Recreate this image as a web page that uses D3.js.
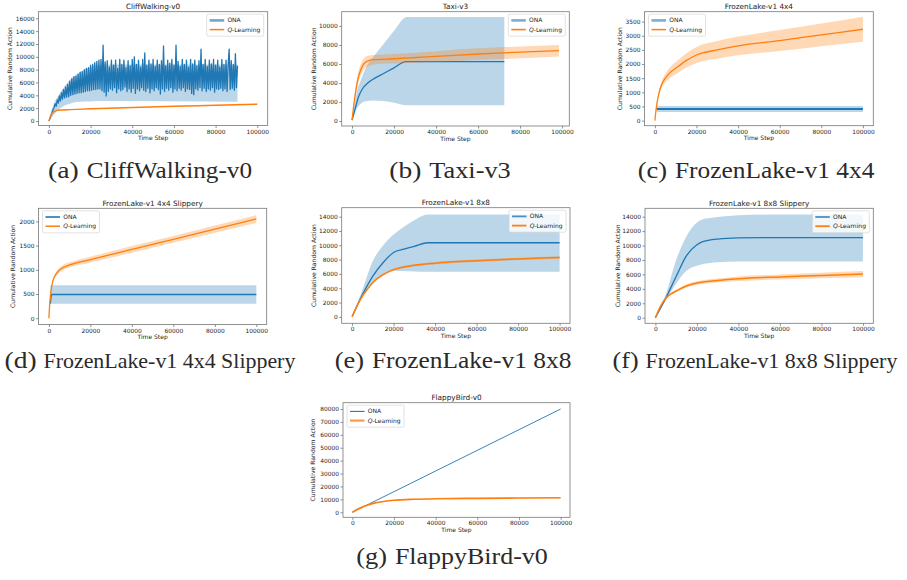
<!DOCTYPE html>
<html>
<head>
<meta charset="utf-8">
<script src="https://cdn.jsdelivr.net/npm/d3@7"></script>
<style>
  body { margin: 0; background: #fff; }
  svg { display: block; }
</style>
</head>
<body>
<svg id="fig" width="907" height="580"></svg>
<script>
const onaColor = '#1f77b4';
const qColor = '#ff7f0e';
const textColor = '#222';
const frameColor = '#777';

const xTicks = [0, 20000, 40000, 60000, 80000, 100000];

// (a) CliffWalking-v0 -- ONA mean sampled every 500 steps
const cliffOnaStep = 500;
const cliffOnaMean = [
  0, 400, 900, 1300, 1800, 2100, 2700, 2300, 3300, 2800,
  3900, 3100, 4400, 3400, 4900, 3600, 5300, 3700, 5700, 3800,
  6200, 4000, 6600, 4100, 6900, 4200, 7000, 4300, 7300, 4400,
  7600, 4400, 7700, 4500, 8000, 4600, 8200, 4700, 8300, 4700,
  8700, 4800, 8800, 4900, 9100, 4900, 9300, 5000, 9500, 5000,
  9600, 4700, 11800, 4500, 9200, 3900, 9400, 4600, 8400, 5000,
  9500, 4800, 8700, 5200, 9500, 4400, 8200, 5000, 9600, 4700,
  8800, 4900, 9500, 5300, 8300, 4600, 9400, 5000, 8600, 4500,
  9600, 5100, 10000, 4300, 8800, 5000, 9500, 4700, 8400, 5200,
  9600, 4800, 10600, 4600, 8700, 5100, 9500, 4400, 8900, 5000,
  9600, 4700, 8500, 5200, 9500, 4900, 8800, 4200, 9400, 5000,
  11700, 4600, 8600, 5100, 9500, 4800, 9000, 5200, 9600, 4500,
  8700, 5000, 11800, 4700, 9300, 5100, 8500, 4800, 9600, 5200,
  8800, 4600, 9500, 5000, 8400, 4900, 9600, 4300, 8900, 4100,
  9500, 5000, 8600, 4800, 9400, 5200, 11200, 4700, 8800, 5100,
  9600, 4600, 8500, 5000, 9500, 4800, 8900, 5200, 9600, 4500,
  8700, 5000, 9500, 4900, 8400, 5100, 9600, 4700, 8800, 5000,
  9500, 4600, 8600, 11200, 4900, 9400, 5100, 8800, 4800, 10500,
  5200, 8600
];
const cliffOnaBandSteps = [0, 2500, 5000, 10000, 15000, 20000, 25000, 90500];
const cliffOnaLow = [0, 1000, 1900, 2700, 3000, 3050, 3100, 3000];
const cliffOnaHigh = [200, 2800, 4200, 6400, 7600, 8400, 8800, 8800];
const cliffQSteps = [0, 1000, 2000, 3000, 4000, 6000, 10000, 20000, 40000, 60000, 80000, 100000];
const cliffQMean = [0, 900, 1350, 1550, 1650, 1720, 1780, 1900, 2100, 2300, 2450, 2620];
const cliffQLow = [0, 850, 1300, 1500, 1600, 1670, 1730, 1850, 2050, 2250, 2400, 2570];
const cliffQHigh = [0, 950, 1400, 1600, 1700, 1770, 1830, 1950, 2150, 2350, 2500, 2670];
const cliffYTicks = [0, 2000, 4000, 6000, 8000, 10000, 12000, 14000, 16000];

// (b) Taxi-v3
const taxiOnaSteps = [0, 1500, 3000, 5000, 7500, 10000, 15000, 20000, 25500, 72500];
const taxiOnaMean = [100, 1300, 2500, 3400, 4000, 4400, 5000, 5600, 6250, 6250];
const taxiOnaBandSteps = [0, 2000, 4000, 7000, 10000, 15000, 20000, 26000, 72500];
const taxiOnaLow = [0, 1200, 1800, 2100, 2160, 2100, 1920, 1650, 1650];
const taxiOnaHigh = [200, 2800, 4200, 5800, 6700, 8100, 9500, 10950, 10950];
const taxiQSteps = [0, 1000, 2000, 3000, 4000, 5000, 6000, 8000, 10000, 20000, 40000, 60000, 80000, 98500];
const taxiQMean = [100, 2000, 3500, 4600, 5300, 5800, 6100, 6350, 6450, 6550, 6800, 7050, 7250, 7400];
const taxiQLow = [50, 1700, 3000, 4000, 4700, 5200, 5500, 5800, 5950, 6050, 6200, 6450, 6600, 6800];
const taxiQHigh = [150, 2300, 4000, 5200, 5900, 6400, 6700, 6900, 6950, 7050, 7350, 7650, 7850, 8000];
const taxiYTicks = [0, 2000, 4000, 6000, 8000, 10000];

// (c) FrozenLake-v1 4x4
const fl4OnaSteps = [800, 100000];
const fl4OnaMean = [410, 410];
const fl4OnaLow = [300, 300];
const fl4OnaHigh = [520, 520];
const fl4QSteps = [0, 500, 1000, 2000, 3000, 5000, 7000, 10000, 15000, 20000, 30000, 40000, 60000, 80000, 100000];
const fl4QMean = [0, 350, 620, 980, 1230, 1500, 1680, 1850, 2120, 2320, 2500, 2640, 2830, 3030, 3230];
const fl4QLow = [0, 320, 570, 900, 1120, 1350, 1500, 1630, 1870, 2040, 2190, 2310, 2460, 2630, 2790];
const fl4QHigh = [0, 380, 670, 1060, 1340, 1650, 1860, 2070, 2370, 2600, 2810, 2970, 3200, 3430, 3670];
const fl4YTicks = [0, 500, 1000, 1500, 2000, 2500, 3000, 3500];

// (d) FrozenLake-v1 4x4 Slippery
const fl4sOnaSteps = [700, 1200, 100000];
const fl4sOnaMean = [300, 490, 490];
const fl4sOnaLow = [300, 300, 300];
const fl4sOnaHigh = [680, 680, 680];
const fl4sQSteps = [0, 500, 1000, 2000, 3000, 5000, 7000, 10000, 20000, 40000, 60000, 80000, 100000];
const fl4sQMean = [0, 350, 550, 780, 880, 990, 1050, 1100, 1210, 1420, 1630, 1840, 2050];
const fl4sQLow = [0, 320, 510, 740, 840, 940, 995, 1045, 1150, 1350, 1560, 1765, 1970];
const fl4sQHigh = [0, 380, 590, 820, 920, 1040, 1105, 1155, 1270, 1490, 1700, 1915, 2130];
const fl4sYTicks = [0, 500, 1000, 1500, 2000];

// (e) FrozenLake-v1 8x8
const fl8OnaSteps = [0, 5000, 10000, 15000, 20000, 25000, 30000, 36500, 100000];
const fl8OnaMean = [0, 3100, 5700, 7600, 9000, 9450, 9850, 10350, 10350];
const fl8OnaLow = [0, 2800, 4800, 5900, 6450, 6400, 6350, 6300, 6300];
const fl8OnaHigh = [0, 3800, 7800, 10000, 11500, 12600, 13500, 14300, 14300];
const fl8QSteps = [0, 2500, 5000, 7500, 10000, 15000, 20000, 30000, 40000, 60000, 80000, 100000];
const fl8QMean = [0, 1600, 2900, 3900, 4800, 5900, 6600, 7200, 7500, 7850, 8100, 8300];
const fl8QLow = [0, 1500, 2780, 3770, 4660, 5750, 6450, 7040, 7340, 7680, 7930, 8130];
const fl8QHigh = [0, 1700, 3020, 4030, 4940, 6050, 6750, 7360, 7660, 8020, 8270, 8470];
const fl8YTicks = [0, 2000, 4000, 6000, 8000, 10000, 12000, 14000];

// (f) FrozenLake-v1 8x8 Slippery
const fl8sOnaSteps = [0, 5000, 10000, 15000, 20000, 22500, 30000, 40000, 60000, 100000];
const fl8sOnaMean = [0, 2700, 5700, 8600, 10100, 10500, 10900, 11050, 11100, 11100];
const fl8sOnaLow = [0, 2400, 4700, 6500, 7200, 7400, 7700, 7800, 7800, 7800];
const fl8sOnaHigh = [0, 3200, 8000, 11300, 13200, 13600, 13950, 14200, 14300, 14300];
const fl8sQSteps = [0, 2500, 5000, 7500, 10000, 15000, 20000, 30000, 40000, 60000, 80000, 100000];
const fl8sQMean = [0, 1600, 2700, 3300, 3700, 4400, 4800, 5150, 5400, 5650, 5850, 6050];
const fl8sQLow = [0, 1550, 2600, 3150, 3520, 4180, 4550, 4870, 5100, 5300, 5460, 5620];
const fl8sQHigh = [0, 1650, 2800, 3450, 3880, 4620, 5050, 5430, 5700, 6000, 6240, 6480];
const fl8sYTicks = [0, 2000, 4000, 6000, 8000, 10000, 12000, 14000];

// (g) FlappyBird-v0
const flappyOnaSteps = [0, 100000];
const flappyOnaMean = [0, 80000];
const flappyQSteps = [0, 2500, 5000, 7500, 10000, 15000, 20000, 30000, 40000, 60000, 80000, 100000];
const flappyQMean = [0, 2300, 4200, 5700, 6900, 8400, 9300, 10100, 10500, 10800, 11000, 11200];
const flappyQLow = [0, 2050, 3900, 5400, 6600, 8100, 9000, 9800, 10200, 10500, 10700, 10900];
const flappyQHigh = [0, 2550, 4500, 6000, 7200, 8700, 9600, 10400, 10800, 11100, 11300, 11500];
const flappyYTicks = [0, 10000, 20000, 30000, 40000, 50000, 60000, 70000, 80000];

const series = (steps, mean, lowSteps, low, high) => ({ steps, mean, lowSteps, low, high });

const panels = [
  { key: 'a', title: 'CliffWalking-v0', frame: [38.5, 11.7, 267.7, 125.5], xDom: [-5000, 105000], yDom: [-700, 17030], yTicks: cliffYTicks, yLabelX: 10, legend: 'right',
    ona: series(cliffOnaMean.map((_, i) => i * cliffOnaStep), cliffOnaMean, cliffOnaBandSteps, cliffOnaLow, cliffOnaHigh),
    q: series(cliffQSteps, cliffQMean, cliffQSteps, cliffQLow, cliffQHigh),
    onaW: 1.3, qW: 1.4, onaCurve: d3.curveLinear, hOna: [2.6, 0.65], hQ: [1.5, 1] },
  { key: 'b', title: 'Taxi-v3', frame: [341.7, 11.7, 569.3, 126], xDom: [-4925, 103425], yDom: [-520, 11500], yTicks: taxiYTicks, yLabelX: 314, legend: 'right',
    ona: series(taxiOnaSteps, taxiOnaMean, taxiOnaBandSteps, taxiOnaLow, taxiOnaHigh),
    q: series(taxiQSteps, taxiQMean, taxiQSteps, taxiQLow, taxiQHigh),
    onaW: 1.3, qW: 1.3, onaCurve: d3.curveMonotoneX, hOna: [2.6, 0.6], hQ: [1.6, 1] },
  { key: 'c', title: 'FrozenLake-v1 4x4', frame: [644.5, 11.7, 873.3, 125.7], xDom: [-5000, 105000], yDom: [-180, 3850], yTicks: fl4YTicks, yLabelX: 620, legend: 'left',
    ona: series(fl4OnaSteps, fl4OnaMean, fl4OnaSteps, fl4OnaLow, fl4OnaHigh),
    q: series(fl4QSteps, fl4QMean, fl4QSteps, fl4QLow, fl4QHigh),
    onaW: 1.8, qW: 1.3, onaCurve: d3.curveLinear, hOna: [2.6, 0.6], hQ: [1.5, 1] },
  { key: 'd', title: 'FrozenLake-v1 4x4 Slippery', frame: [38.5, 208.3, 266.7, 324.5], xDom: [-5000, 105000], yDom: [-130, 2270], yTicks: fl4sYTicks, yLabelX: 13.3, legend: 'left',
    ona: series(fl4sOnaSteps, fl4sOnaMean, fl4sOnaSteps, fl4sOnaLow, fl4sOnaHigh),
    q: series(fl4sQSteps, fl4sQMean, fl4sQSteps, fl4sQLow, fl4sQHigh),
    onaW: 1.3, qW: 1.3, onaCurve: d3.curveLinear, hOna: [2, 0.8], hQ: [1.5, 1] },
  { key: 'e', title: 'FrozenLake-v1 8x8', frame: [341.7, 207.7, 570, 323.3], xDom: [-5000, 105000], yDom: [-900, 15250], yTicks: fl8YTicks, yLabelX: 314, legend: 'right',
    ona: series(fl8OnaSteps, fl8OnaMean, fl8OnaSteps, fl8OnaLow, fl8OnaHigh),
    q: series(fl8QSteps, fl8QMean, fl8QSteps, fl8QLow, fl8QHigh),
    onaW: 1.3, qW: 1.5, onaCurve: d3.curveMonotoneX, hOna: [1.8, 0.8], hQ: [1.8, 1] },
  { key: 'f', title: 'FrozenLake-v1 8x8 Slippery', frame: [645, 208.3, 873.3, 323.3], xDom: [-5000, 105000], yDom: [-775, 15160], yTicks: fl8sYTicks, yLabelX: 618, legend: 'right',
    ona: series(fl8sOnaSteps, fl8sOnaMean, fl8sOnaSteps, fl8sOnaLow, fl8sOnaHigh),
    q: series(fl8sQSteps, fl8sQMean, fl8sQSteps, fl8sQLow, fl8sQHigh),
    onaW: 1.3, qW: 1.5, onaCurve: d3.curveMonotoneX, hOna: [1.8, 0.8], hQ: [1.8, 1] },
  { key: 'g', title: 'FlappyBird-v0', frame: [343, 402.7, 570, 517.3], xDom: [-4500, 104500], yDom: [-3900, 84900], yTicks: flappyYTicks, yLabelX: 313, legend: 'left',
    ona: series(flappyOnaSteps, flappyOnaMean, null, null, null),
    q: series(flappyQSteps, flappyQMean, flappyQSteps, flappyQLow, flappyQHigh),
    onaW: 0.9, qW: 1.6, onaCurve: d3.curveLinear, hOna: [1.1, 1], hQ: [2.2, 0.8] },
];

const captions = [
  { label: '(a)', name: 'CliffWalking-v0', cx: 150, y: 178, labelSize: 24, nameSize: 24, labelW: 30.7, nameW: 165.4 },
  { label: '(b)', name: 'Taxi-v3', cx: 450, y: 178, labelSize: 24, nameSize: 24, labelW: 32, nameW: 81.3 },
  { label: '(c)', name: 'FrozenLake-v1 4x4', cx: 756, y: 178, labelSize: 24, nameSize: 24, labelW: 29.3, nameW: 199.4 },
  { label: '(d)', name: 'FrozenLake-v1 4x4 Slippery', cx: 150, y: 368, labelSize: 24, nameSize: 20.6, labelW: 32, nameW: 251.9 },
  { label: '(e)', name: 'FrozenLake-v1 8x8', cx: 453, y: 368, labelSize: 24, nameSize: 24, labelW: 29.3, nameW: 199.4 },
  { label: '(f)', name: 'FrozenLake-v1 8x8 Slippery', cx: 755, y: 368, labelSize: 24, nameSize: 20.6, labelW: 26, nameW: 251.9 },
  { label: '(g)', name: 'FlappyBird-v0', cx: 452, y: 564, labelSize: 24, nameSize: 24, labelW: 30.7, nameW: 152.8 },
];

const svg = d3.select('#fig');
const defs = svg.append('defs');
const fmt = d3.format('d');

const drawPanel = (p) => {
  const [x0, y0, x1, y1] = p.frame;
  const x = d3.scaleLinear().domain(p.xDom).range([x0, x1]);
  const y = d3.scaleLinear().domain(p.yDom).range([y1, y0]);
  const g = svg.append('g').attr('class', `panel-${p.key}`);

  defs.append('clipPath').attr('id', `clip-${p.key}`)
    .append('rect').attr('x', x0).attr('y', y0).attr('width', x1 - x0).attr('height', y1 - y0);
  const plot = g.append('g').attr('clip-path', `url(#clip-${p.key})`);

  const drawSeries = (s, color, width, curve) => {
    if (s.low) {
      const band = s.lowSteps.map((t, i) => [t, s.low[i], s.high[i]]);
      plot.append('path').datum(band)
        .attr('fill', color).attr('fill-opacity', 0.3)
        .attr('d', d3.area().curve(d3.curveMonotoneX)
          .x((d) => x(d[0])).y0((d) => y(d[1])).y1((d) => y(d[2])));
    }
    const pts = s.steps.map((t, i) => [t, s.mean[i]]);
    plot.append('path').datum(pts)
      .attr('fill', 'none').attr('stroke', color).attr('stroke-width', width)
      .attr('stroke-linejoin', 'round')
      .attr('d', d3.line().curve(curve).x((d) => x(d[0])).y((d) => y(d[1])));
  };

  // ONA first, Q-Learning on top
  drawSeries(p.ona, onaColor, p.onaW, p.onaCurve);
  drawSeries(p.q, qColor, p.qW, d3.curveMonotoneX);

  // Axes
  const xAxis = g.append('g').attr('transform', `translate(0,${y1})`)
    .call(d3.axisBottom(x).tickValues(xTicks).tickSize(2.5).tickPadding(1.5).tickFormat(fmt));
  const yAxis = g.append('g').attr('transform', `translate(${x0},0)`)
    .call(d3.axisLeft(y).tickValues(p.yTicks).tickSize(2.5).tickPadding(1.5).tickFormat(fmt));
  [xAxis, yAxis].forEach((a) => {
    a.select('.domain').remove();
    a.selectAll('.tick line').attr('stroke', '#444').attr('stroke-width', 0.6);
    a.selectAll('.tick text').attr('fill', textColor)
      .style('font', '5.9px "DejaVu Sans", sans-serif');
  });

  g.append('rect').attr('x', x0).attr('y', y0).attr('width', x1 - x0).attr('height', y1 - y0)
    .attr('fill', 'none').attr('stroke', frameColor).attr('stroke-width', 0.8);

  // Title and axis labels
  g.append('text').attr('x', (x0 + x1) / 2).attr('y', y0 - 2.6)
    .attr('text-anchor', 'middle').attr('fill', textColor)
    .style('font', '7.3px "DejaVu Sans", sans-serif').text(p.title);
  g.append('text').attr('x', (x0 + x1) / 2).attr('y', y1 + 14.5)
    .attr('text-anchor', 'middle').attr('fill', textColor)
    .style('font', '6px "DejaVu Sans", sans-serif').text('Time Step');
  g.append('text')
    .attr('transform', `translate(${p.yLabelX},${(y0 + y1) / 2}) rotate(-90)`)
    .attr('text-anchor', 'middle').attr('dy', '0.35em').attr('fill', textColor)
    .style('font', '6.1px "DejaVu Sans", sans-serif').text('Cumulative Random Action');

  // Legend
  const lw = 57, lh = 22;
  const lx = p.legend === 'right' ? x1 - 4 - lw : x0 + 4;
  const ly = y0 + 2.5;
  const leg = g.append('g').attr('transform', `translate(${lx},${ly})`);
  leg.append('rect').attr('width', lw).attr('height', lh).attr('rx', 1.5)
    .attr('fill', '#fff').attr('fill-opacity', 0.8)
    .attr('stroke', '#cfcfcf').attr('stroke-width', 0.6);
  const rows = [
    { color: onaColor, h: p.hOna, y: 6.2 },
    { color: qColor, h: p.hQ, y: 15.4 },
  ];
  rows.forEach((r) => {
    leg.append('line').attr('x1', 3).attr('x2', 17.5).attr('y1', r.y).attr('y2', r.y)
      .attr('stroke', r.color).attr('stroke-width', r.h[0]).attr('stroke-opacity', r.h[1]);
  });
  leg.append('text').attr('x', 20.7).attr('y', rows[0].y).attr('dy', '0.35em')
    .attr('fill', textColor).style('font', '6px "DejaVu Sans", sans-serif').text('ONA');
  const qt = leg.append('text').attr('x', 20.7).attr('y', rows[1].y).attr('dy', '0.35em')
    .attr('fill', textColor).style('font', '6px "DejaVu Sans", sans-serif');
  qt.append('tspan').style('font-style', 'italic').text('Q');
  qt.append('tspan').text('-Learning');
};

panels.forEach(drawPanel);

// Sub-figure captions
const capFont = '"Liberation Serif", "DejaVu Serif", serif';
captions.forEach((c) => {
  const gap = 0.333 * c.nameSize;
  const start = c.cx - (c.labelW + gap + c.nameW) / 2;
  svg.append('text').attr('x', start).attr('y', c.y)
    .attr('textLength', c.labelW).attr('lengthAdjust', 'spacingAndGlyphs')
    .attr('fill', '#2a2a2a').style('font-family', capFont).style('font-size', `${c.labelSize}px`)
    .text(c.label);
  svg.append('text').attr('x', start + c.labelW + gap).attr('y', c.y)
    .attr('textLength', c.nameW).attr('lengthAdjust', 'spacingAndGlyphs')
    .attr('fill', '#2a2a2a').style('font-family', capFont).style('font-size', `${c.nameSize}px`)
    .text(c.name);
});
</script>
</body>
</html>
